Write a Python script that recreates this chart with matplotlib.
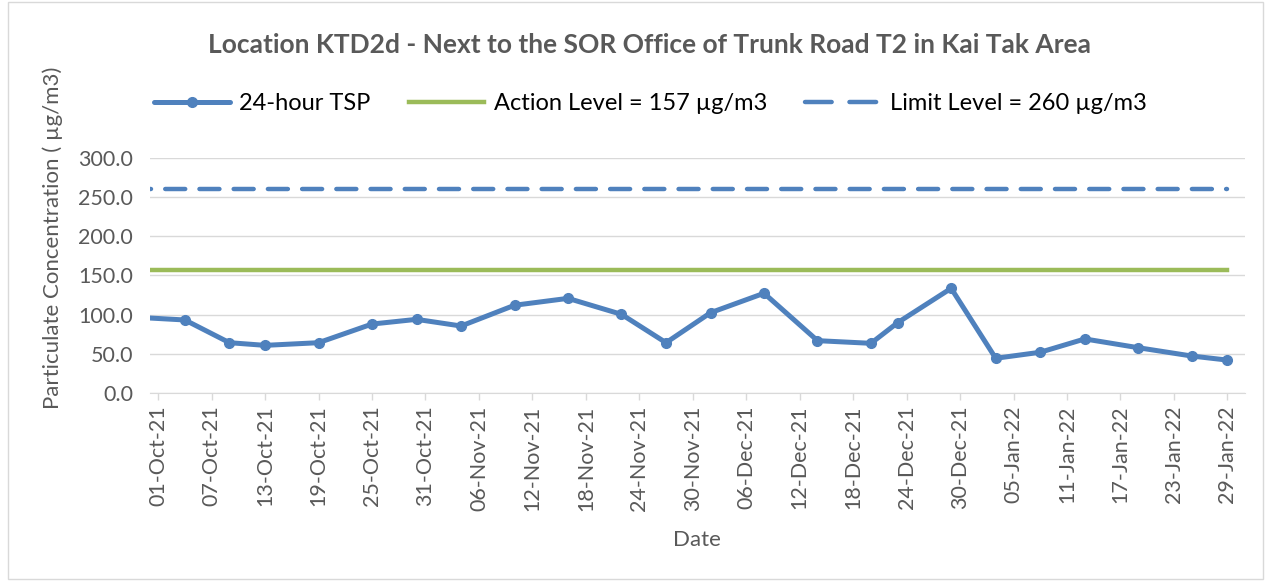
import pandas as pd
import matplotlib.pyplot as plt
import matplotlib.dates as mdates
from matplotlib.patches import Rectangle

# 24-hour TSP readings (first point sits just left of the axis and is clipped)
dates = ['2021-09-28', '2021-10-04', '2021-10-09', '2021-10-13', '2021-10-19', '2021-10-25',
         '2021-10-30', '2021-11-04', '2021-11-10', '2021-11-16', '2021-11-22', '2021-11-27',
         '2021-12-02', '2021-12-08', '2021-12-14', '2021-12-20', '2021-12-23', '2021-12-29',
         '2022-01-03', '2022-01-08', '2022-01-13', '2022-01-19', '2022-01-25', '2022-01-29']
tsp = [97.0, 93.2, 64.2, 60.8, 64.2, 88.0, 94.0, 85.5, 112.0, 120.8, 100.4, 64.2,
       102.5, 127.3, 66.8, 63.4, 89.8, 133.6, 44.3, 52.0, 69.0, 57.8, 47.2, 42.0]
action_level = 157
limit_level = 260
level_start = '2021-09-28'
level_end = '2022-01-29'

dates = pd.to_datetime(dates)
lvl_x = pd.to_datetime([level_start, level_end])

blue = '#4F81BD'
green = '#9BBB59'
grey = '#595959'
font = 'Lato'

fig = plt.figure(figsize=(12.68, 5.81), dpi=100)
fig.patches.append(Rectangle((0.006, 0.004), 0.99, 0.992, transform=fig.transFigure,
                             fill=False, edgecolor='#D9D9D9', linewidth=1))
ax = fig.add_axes([0.118, 0.3236, 0.864, 0.4045])

ax.plot(dates, tsp, color=blue, linewidth=3.6, marker='o', markersize=7,
        label='24-hour TSP', solid_capstyle='round', zorder=4)
ax.plot(lvl_x, [action_level] * 2, color=green, linewidth=3.2,
        label='Action Level = 157 µg/m3', zorder=3)
ax.plot(lvl_x, [limit_level] * 2, color=blue, linewidth=3.2, dashes=(4.5, 3.2),
        dash_capstyle='round', label='Limit Level = 260 µg/m3', zorder=3)

ax.set_xlim(pd.Timestamp('2021-09-30 01:00'), pd.Timestamp('2022-01-31'))
ax.set_ylim(0, 300)
ax.set_yticks([0, 50, 100, 150, 200, 250, 300])
ax.set_yticklabels([f'{v:.1f}' for v in [0, 50, 100, 150, 200, 250, 300]])

ticks = pd.date_range('2021-10-01', '2022-01-29', freq='6D')
ax.set_xticks(ticks)
ax.xaxis.set_major_formatter(mdates.DateFormatter('%d-%b-%y'))
plt.setp(ax.get_xticklabels(), rotation=90, fontsize=15.5, color=grey, family=font)
plt.setp(ax.get_yticklabels(), fontsize=15.5, color=grey, family=font)
ax.tick_params(axis='x', length=5, color='#D9D9D9', width=1, pad=4)
ax.tick_params(axis='y', length=0, pad=12)

ax.grid(axis='y', color='#D9D9D9', linewidth=1)
ax.set_axisbelow(True)
for s in ['top', 'right', 'left']:
    ax.spines[s].set_visible(False)
ax.spines['bottom'].set_color('#D9D9D9')

ax.set_xlabel('Date', fontsize=16, color=grey, family=font, labelpad=14)
ax.set_ylabel('Particulate Concentration ( µg/m3)', fontsize=16, color=grey,
              family=font)
ax.yaxis.set_label_coords(-0.079, 0.66)

fig.text(0.512, 0.922, 'Location KTD2d - Next to the SOR Office of Trunk Road T2 in Kai Tak Area',
         ha='center', va='center', fontsize=19, fontweight='bold', color=grey, family=font)

leg = fig.legend(loc='center', bbox_to_anchor=(0.513, 0.822), ncol=3, frameon=False,
                 prop={'family': font, 'size': 17}, handlelength=3.2, columnspacing=1.6,
                 handletextpad=0.4)
leg.get_lines()[2].set_dashes((6, 4))

plt.savefig('out.png', dpi=100)
